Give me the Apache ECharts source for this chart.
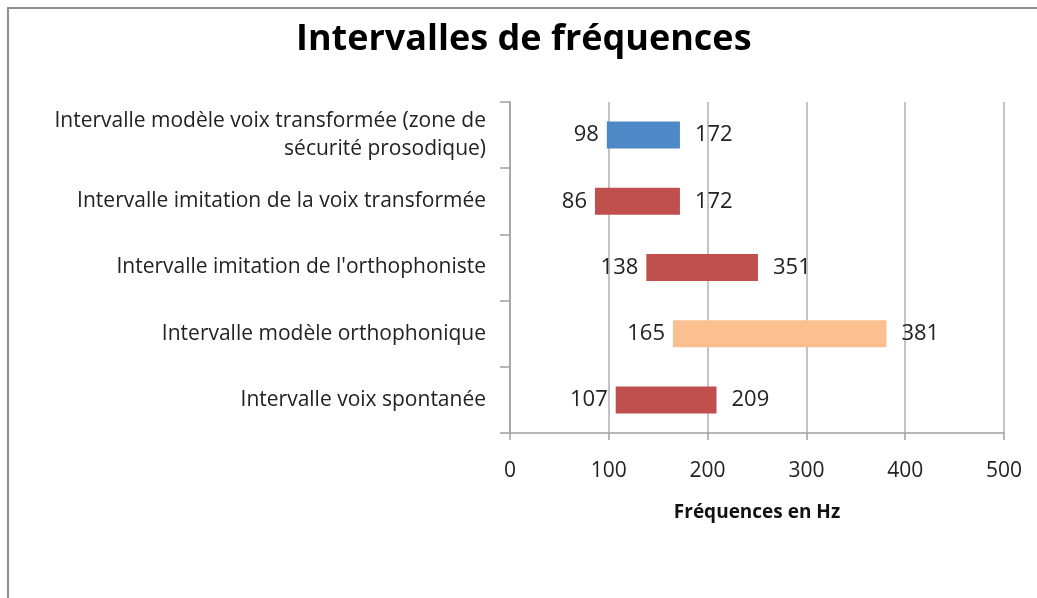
<!DOCTYPE html>
<html>
<head>
<meta charset="utf-8">
<script src="https://cdn.jsdelivr.net/npm/echarts@6/dist/echarts.min.js"></script>
<style>
  html, body { margin: 0; padding: 0; background: #fff; }
  .frame {
    position: absolute; left: 7px; top: 7px; width: 1100px; height: 700px;
    border-left: 2px solid #8e8e8e; border-top: 2px solid #8e8e8e;
  }
  .chart { position: absolute; left: 0; top: 0; width: 1037px; height: 598px; }
</style>
</head>
<body>
<div class="frame"></div>
<div class="chart" id="chart"></div>
<script>
// catégories, de haut en bas
const categories = [
  'Intervalle modèle voix transformée (zone de\nsécurité prosodique)',
  'Intervalle imitation de la voix transformée',
  "Intervalle imitation de l'orthophoniste",
  'Intervalle modèle orthophonique',
  'Intervalle voix spontanée'
]
// bornes basses (Hz)
const lows = [98, 86, 138, 165, 107]
// fin des barres telle que dessinée
const barEnds = [172, 172, 251, 381, 209]
// étiquettes de fin affichées
const endLabels = [172, 172, 351, 381, 209]
const xTicks = [0, 100, 200, 300, 400, 500]

const barColors = ['#4f88c6', '#c0504d', '#c0504d', '#fac090', '#c0504d']
const font = 'Open Sans'

/**
 * construit les données de la série visible
 */
function rangeData() {
  let out = []
  for (let i = 0; i < lows.length; i++) {
    out.push({
      value: barEnds[i] - lows[i],
      itemStyle: { color: barColors[i] }
    })
  }
  return out
}

let option = {
  animation: false,
  backgroundColor: 'transparent',
  title: {
    text: 'Intervalles de fréquences',
    left: 291,
    top: 17,
    textStyle: { fontFamily: font, fontWeight: 'bold', fontSize: 36, color: '#000' }
  },
  grid: { left: 510, right: 33, top: 102, bottom: 165, containLabel: false },
  xAxis: {
    type: 'value',
    min: xTicks[0],
    max: xTicks[xTicks.length - 1],
    interval: 100,
    name: 'Fréquences en Hz',
    nameLocation: 'middle',
    nameGap: 70,
    nameTextStyle: { fontFamily: font, fontWeight: 'bold', fontSize: 19, color: '#111' },
    axisLine: { show: true, lineStyle: { color: '#a0a0a0', width: 1.5 } },
    axisTick: { show: true, length: 7, lineStyle: { color: '#a0a0a0', width: 1.5 } },
    axisLabel: { fontFamily: font, fontSize: 21, color: '#222', margin: 28 },
    splitLine: { show: true, lineStyle: { color: '#b0b0b0', width: 1.5 } }
  },
  yAxis: {
    type: 'category',
    inverse: true,
    data: categories,
    axisLine: { show: true, lineStyle: { color: '#a0a0a0', width: 1.5 } },
    axisTick: { show: true, length: 10, lineStyle: { color: '#a0a0a0', width: 1.5 } },
    axisLabel: {
      fontFamily: font, fontSize: 21, color: '#222', margin: 24,
      lineHeight: 28, align: 'right'
    },
    splitLine: { show: false }
  },
  series: [
    {
      type: 'bar',
      stack: 'range',
      data: lows,
      barWidth: 27,
      itemStyle: { color: 'transparent' },
      label: {
        show: true,
        position: 'insideRight',
        distance: 8,
        fontFamily: font, fontSize: 22, color: '#222'
      },
      silent: true
    },
    {
      type: 'bar',
      stack: 'range',
      data: rangeData(),
      barWidth: 27,
      label: {
        show: true,
        position: 'right',
        distance: 15,
        fontFamily: font, fontSize: 22, color: '#222',
        formatter: function(p) { return endLabels[p.dataIndex] }
      }
    }
  ]
}

var myChart = echarts.init(document.getElementById('chart'), null, { renderer: 'canvas' })
myChart.setOption(option, true)
</script>
</body>
</html>
